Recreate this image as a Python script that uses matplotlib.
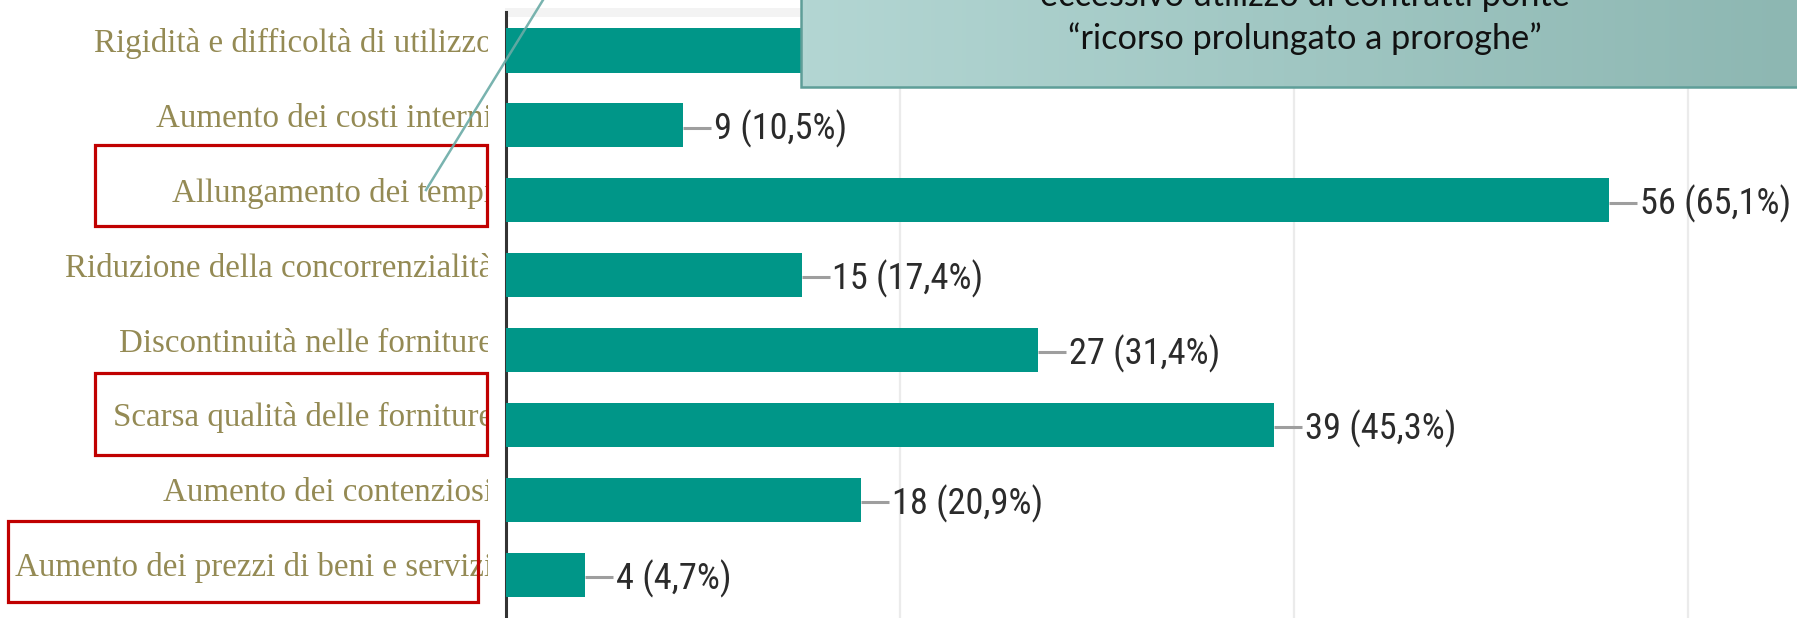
import numpy as np
import matplotlib
matplotlib.use("Agg")
import matplotlib.pyplot as plt
from matplotlib.patches import Rectangle
from matplotlib.colors import LinearSegmentedColormap
from matplotlib import font_manager as fm

# ---------------- data ----------------
categories = [
    "Rigidità e difficoltà di utilizzo",
    "Aumento dei costi interni",
    "Allungamento dei tempi",
    "Riduzione della concorrenzialità",
    "Discontinuità nelle forniture",
    "Scarsa qualità delle forniture",
    "Aumento dei contenziosi",
    "Aumento dei prezzi di beni e servizi",
]
counts = [45, 9, 56, 15, 27, 39, 18, 4]
percents = ["52,3%", "10,5%", "65,1%", "17,4%", "31,4%", "45,3%", "20,9%", "4,7%"]
grid_ticks = [20, 40, 60]
callout_lines = ["eccessivo utilizzo di contratti ponte",
                 "“ricorso prolungato a proroghe”"]

# ---------------- figure ----------------
W, H = 1797, 618
fig = plt.figure(figsize=(W / 100, H / 100), dpi=100)
fig.patch.set_facecolor("white")

# pick a narrow sans font for the value labels if one is installed
value_prop = None
pref = ["Liberation Sans Narrow", "Roboto Condensed", "Open Sans Condensed",
        "Noto Sans Condensed", "DejaVu Sans"]
narrow = [f for f in fm.fontManager.ttflist
          if (("Narrow" in f.name or "Condensed" in f.name
               or f.stretch in ("condensed", "semi-condensed", "extra-condensed"))
              and f.weight in (400, "normal", "regular") and f.style == "normal"
              and "Serif" not in f.name and "Mono" not in f.name)]
narrow.sort(key=lambda f: pref.index(f.name) if f.name in pref else 99)
if narrow:
    value_prop = fm.FontProperties(fname=narrow[0].fname)
else:
    value_prop = fm.FontProperties(family="Liberation Sans")

names = {f.name for f in fm.fontManager.ttflist}
label_family = "Liberation Serif"
callout_family = "Lato" if "Lato" in names else "DejaVu Sans"

renderer = fig.canvas.get_renderer()


def fit_size(text, prop, target_px, base=20.0):
    p = prop.copy()
    p.set_size(base)
    t = fig.text(0, 0, text, fontproperties=p)
    w = t.get_window_extent(renderer).width
    t.remove()
    return base * target_px / w


label_fs = fit_size(categories[-1], fm.FontProperties(family=label_family), 480)
value_fs = fit_size("56 (65,1%)", value_prop, 151)
callout_fs = fit_size(callout_lines[1], fm.FontProperties(family=callout_family), 475)
vprop = value_prop.copy()
vprop.set_size(value_fs)

# background overlay (pixel coordinates)
bg = fig.add_axes([0, 0, 1, 1], zorder=0)
bg.set_xlim(0, W)
bg.set_ylim(H, 0)
bg.axis("off")
bg.add_patch(Rectangle((505, 8), W - 505, 9, color="#f3f3f3", lw=0))

# main bar axes
px_per_unit = 19.7
ax_left, ax_top = 506, 12
ax = fig.add_axes([ax_left / W, 0, (W - ax_left) / W, (H - ax_top) / H], zorder=2)
ax.set_facecolor("none")
ypos = np.arange(len(categories))
ax.barh(ypos, counts, height=0.59, color="#009688", zorder=3)
ax.set_xlim(0, (W - ax_left) / px_per_unit)
ylim = (7.577, -0.514)
ax.set_ylim(*ylim)
ax.set_xticks(grid_ticks)
ax.set_yticks([])
ax.tick_params(length=0, labelbottom=False, labelleft=False)
ax.grid(axis="x", color="#ebebeb", lw=1.6)
ax.set_axisbelow(True)
for s in ["top", "right", "bottom"]:
    ax.spines[s].set_visible(False)
ax.spines["left"].set_color("#333333")
ax.spines["left"].set_linewidth(2.2)

conn_len = 28 / px_per_unit
gap = 31 / px_per_unit
for i, (c, p) in enumerate(zip(counts, percents)):
    ax.plot([c, c + conn_len], [i + 0.03, i + 0.03], color="#9e9e9e", lw=2.2,
            solid_capstyle="butt", zorder=4)
    ax.text(c + gap, i + 0.19, f"{c} ({p})", fontproperties=vprop,
            color="#2b2b2b", ha="left", va="baseline", zorder=5)

# category labels (clipped at the right edge like the reference)
lab = fig.add_axes([0, 0, 488 / W, (H - ax_top) / H], zorder=3)
lab.set_xlim(0, 488)
lab.set_ylim(*ylim)
lab.axis("off")
for i, cat in enumerate(categories):
    lab.text(493, i + 0.02, cat, family=label_family, fontsize=label_fs,
             color="#948a54", ha="right", va="baseline", clip_on=True)

# foreground overlay (pixel coordinates)
fg = fig.add_axes([0, 0, 1, 1], zorder=10)
fg.set_facecolor("none")
fg.axis("off")

# red highlight boxes
for (x0, y0, x1, y1) in [(95, 145, 487, 226), (95, 373, 487, 455), (8, 521, 478, 602)]:
    fg.add_patch(Rectangle((x0, y0), x1 - x0, y1 - y0, fill=False,
                           edgecolor="#c00000", lw=2.3))

# callout pointer
fg.plot([543, 426], [0, 190], color="#6aaba6", lw=1.8, alpha=0.9)

# callout box with gradient
cmap = LinearSegmentedColormap.from_list("call", ["#b3d6d3", "#8db7b2"])
fg.imshow(np.linspace(0, 1, 256)[None, :], extent=(801, W + 2, 87, -4),
          aspect="auto", cmap=cmap, zorder=1, interpolation="bilinear")
fg.add_patch(Rectangle((801, -6), W - 801 + 6, 93, fill=False,
                       edgecolor="#5e9e98", lw=1.8, zorder=2))
fg.text(1305, 6, callout_lines[0], family=callout_family, fontsize=callout_fs,
        color="#111111", ha="center", va="baseline", zorder=3)
fg.text(1305, 49, callout_lines[1], family=callout_family, fontsize=callout_fs,
        color="#111111", ha="center", va="baseline", zorder=3)
fg.set_xlim(0, W)
fg.set_ylim(H, 0)

fig.savefig("out.png", dpi=100)
